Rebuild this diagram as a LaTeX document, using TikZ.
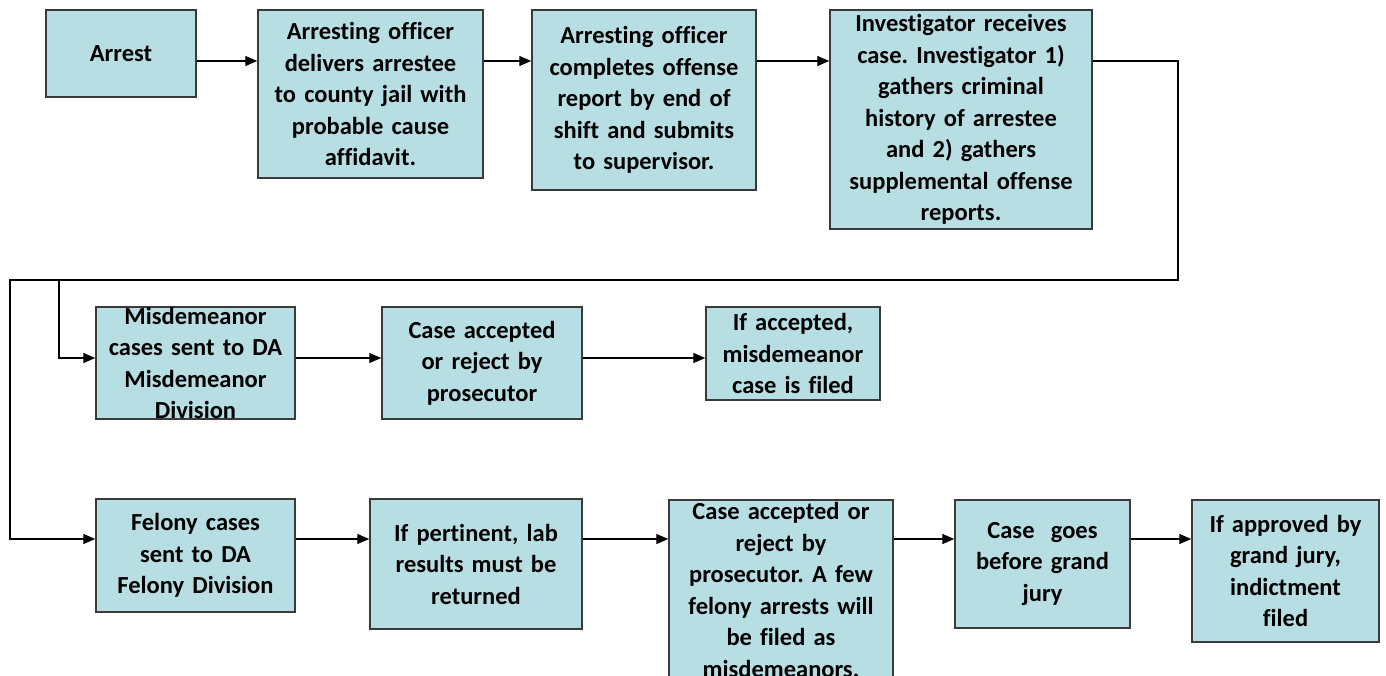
\documentclass[tikz,border=0pt]{standalone}
\usepackage{fontspec}
\setmainfont[Ligatures=NoCommon]{Carlito}
\usetikzlibrary{arrows.meta}
\definecolor{boxfill}{HTML}{B7DEE2}
\definecolor{boxline}{HTML}{3A3A3A}
\frenchspacing
\begin{document}
\begin{tikzpicture}[x=1pt,y=-1pt,
  stage/.style={draw=boxline,fill=boxfill,line width=1.5pt,inner sep=0pt,align=center,
    font=\bfseries\fontsize{24.5}{31.5}\selectfont},
  flow/.style={line width=1.4pt,-{Triangle[length=12pt,width=10pt]}}]
\useasboundingbox (0,0) rectangle (1386,676);
% first row
\node[stage,minimum width=150pt,minimum height=87pt,text width=140pt] (arrest) at (121,53.5) {Arrest};
\node[stage,minimum width=225pt,minimum height=168pt,text width=215pt] (deliver) at (370.5,94) {Arresting officer\\delivers arrestee\\to county jail with\\probable cause\\affidavit.};
\node[stage,minimum width=224pt,minimum height=180pt,text width=214pt] (report) at (644,100) {Arresting officer\\completes offense\\report by end of\\shift and submits\\to supervisor.};
\node[stage,minimum width=262pt,minimum height=219pt,text width=252pt] (invest) at (961,119.5) {Investigator receives\\case. Investigator 1)\\gathers criminal\\history of arrestee\\and 2) gathers\\supplemental offense\\reports.};
% misdemeanor row
\node[stage,minimum width=199pt,minimum height=112pt,text width=189pt] (misd) at (195.5,363) {Misdemeanor\\cases sent to DA\\Misdemeanor\\Division};
\node[stage,minimum width=200pt,minimum height=112pt,text width=190pt] (misdcheck) at (482,363) {Case accepted\\or reject by\\prosecutor};
\node[stage,minimum width=174pt,minimum height=93pt,text width=164pt] (misdfiled) at (793,353.5) {If accepted,\\misdemeanor\\case is filed};
% felony row
\node[stage,minimum width=199pt,minimum height=113pt,text width=189pt] (felony) at (195.5,555.5) {Felony cases\\sent to DA\\Felony Division};
\node[stage,minimum width=212pt,minimum height=130pt,text width=202pt] (lab) at (476,564) {If pertinent, lab\\results must be\\returned};
\node[stage,minimum width=224pt,minimum height=180pt,text width=214pt] (felcheck) at (781,590) {Case accepted or\\reject by\\prosecutor. A few\\felony arrests will\\be filed as\\misdemeanors.};
\node[stage,minimum width=175pt,minimum height=128pt,text width=165pt] (jury) at (1042.5,564) {Case\ \ goes\\before grand\\jury};
\node[stage,minimum width=187pt,minimum height=142pt,text width=177pt] (indict) at (1285.5,571) {If approved by\\grand jury,\\indictment\\filed};
% connector levels
\coordinate (r1) at (0,61);
\coordinate (r2) at (0,358);
\coordinate (r3) at (0,539);
\coordinate (turn) at (1178,280);
\coordinate (split) at (59,280);
\coordinate (back) at (10,280);
\draw[flow] (arrest.east |- r1) -- (deliver.west |- r1);
\draw[flow] (deliver.east |- r1) -- (report.west |- r1);
\draw[flow] (report.east |- r1) -- (invest.west |- r1);
\draw[flow] (invest.east |- r1) -| (turn) -- (back) |- (felony.west |- r3);
\draw[flow] (split) |- (misd.west |- r2);
\draw[flow] (misd.east |- r2) -- (misdcheck.west |- r2);
\draw[flow] (misdcheck.east |- r2) -- (misdfiled.west |- r2);
\draw[flow] (felony.east |- r3) -- (lab.west |- r3);
\draw[flow] (lab.east |- r3) -- (felcheck.west |- r3);
\draw[flow] (felcheck.east |- r3) -- (jury.west |- r3);
\draw[flow] (jury.east |- r3) -- (indict.west |- r3);
\end{tikzpicture}
\end{document}
